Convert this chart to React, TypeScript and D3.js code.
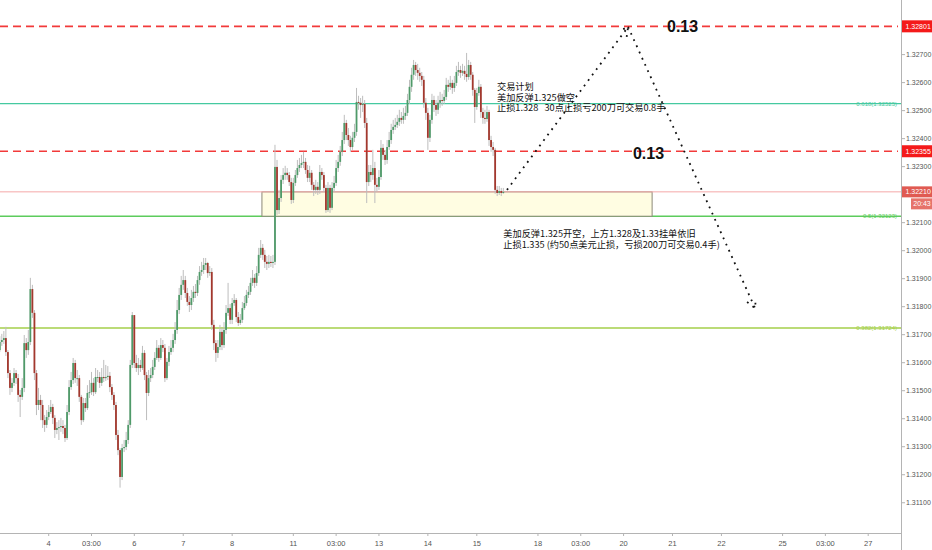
import React from "react";
import * as d3 from "d3";

// USDCAD 1H, Nov 2019. Each bar is [high, low, close]; the open is the previous close.
const FIRST_OPEN = 1.31645;
const FIRST_INDEX = -24; // bars before the Mon 4 session start

const nov1 = [
  [1.31695, 1.31638, 1.31674], [1.31703, 1.3166, 1.31681], [1.31713, 1.31667, 1.31688],
  [1.31728, 1.31624, 1.31638], [1.31645, 1.31545, 1.31563], [1.31574, 1.31485, 1.3151],
  [1.31545, 1.31495, 1.31528], [1.31581, 1.31517, 1.31563], [1.31574, 1.31524, 1.31545],
  [1.3156, 1.3146, 1.31485], [1.31503, 1.31406, 1.31478], [1.31545, 1.31467, 1.3151],
  [1.31699, 1.31495, 1.3167], [1.31688, 1.31617, 1.31645], [1.31717, 1.31628, 1.31674],
  [1.31903, 1.31663, 1.31863], [1.31878, 1.3176, 1.31778], [1.31788, 1.31538, 1.31563],
  [1.31574, 1.31413, 1.31449], [1.3151, 1.31431, 1.31467], [1.31485, 1.31395, 1.31449],
  [1.31467, 1.31367, 1.31395], [1.31413, 1.31353, 1.31378], [1.31431, 1.31367, 1.31406],
];
const nov4 = [
  [1.31449, 1.31395, 1.31424], [1.31467, 1.31417, 1.31442], [1.31453, 1.31381, 1.31403],
  [1.31413, 1.31331, 1.3136], [1.31388, 1.31345, 1.31367], [1.31395, 1.31324, 1.3137],
  [1.31403, 1.31353, 1.31374], [1.31395, 1.31345, 1.31367], [1.31378, 1.31317, 1.31331],
  [1.31449, 1.31324, 1.31424], [1.31538, 1.31413, 1.31513], [1.31567, 1.31503, 1.31538],
  [1.31617, 1.31524, 1.31599], [1.3161, 1.31528, 1.31545], [1.31574, 1.31517, 1.31545],
  [1.31556, 1.3146, 1.31478], [1.31485, 1.31378, 1.31395], [1.31474, 1.31388, 1.31456],
];
const nov5 = [
  [1.31474, 1.31424, 1.31438], [1.3152, 1.31431, 1.31492], [1.31538, 1.31474, 1.31495],
  [1.31567, 1.31485, 1.31528], [1.31545, 1.31481, 1.31495], [1.31581, 1.31488, 1.31549],
  [1.31574, 1.31531, 1.31549], [1.31567, 1.3151, 1.31528], [1.31581, 1.31517, 1.31549],
  [1.3161, 1.31531, 1.31545], [1.31592, 1.31535, 1.31549], [1.31588, 1.31538, 1.31553],
  [1.31567, 1.31495, 1.31513], [1.31524, 1.31467, 1.31485], [1.31495, 1.31431, 1.31449],
  [1.3146, 1.31324, 1.31342], [1.3136, 1.3127, 1.31288], [1.31295, 1.31154, 1.31192],
  [1.3131, 1.31181, 1.31295], [1.31324, 1.31281, 1.31299], [1.31353, 1.31288, 1.31324],
  [1.31395, 1.3131, 1.31378], [1.3161, 1.31367, 1.31592], [1.31781, 1.31581, 1.3177],
];
const nov6 = [
  [1.3176, 1.31581, 1.31599], [1.31628, 1.31567, 1.31581], [1.31617, 1.31556, 1.31592],
  [1.3161, 1.31567, 1.31581], [1.3166, 1.31574, 1.31635], [1.31645, 1.31538, 1.31556],
  [1.31567, 1.31395, 1.31492], [1.31574, 1.31481, 1.31545], [1.31581, 1.31531, 1.31556],
  [1.3161, 1.31545, 1.31585], [1.31638, 1.31574, 1.31617], [1.31681, 1.3161, 1.31653],
  [1.31663, 1.31603, 1.31617], [1.31688, 1.3161, 1.31663], [1.31681, 1.31638, 1.31653],
  [1.31667, 1.31531, 1.31545], [1.31617, 1.31538, 1.31603], [1.3166, 1.31588, 1.31638],
  [1.31681, 1.31628, 1.31653], [1.31703, 1.31638, 1.31681], [1.31745, 1.31667, 1.31717],
  [1.31824, 1.31703, 1.31788], [1.31867, 1.31774, 1.31842], [1.3191, 1.31824, 1.31878],
];
const nov7 = [
  [1.31931, 1.3186, 1.31895], [1.3191, 1.31831, 1.31849], [1.31867, 1.31803, 1.31817],
  [1.31838, 1.31781, 1.31806], [1.3186, 1.31788, 1.31831], [1.31874, 1.31817, 1.31853],
  [1.31881, 1.31831, 1.31849], [1.3191, 1.31838, 1.31895], [1.31945, 1.31878, 1.31924],
  [1.3196, 1.3191, 1.31931], [1.31974, 1.31917, 1.31949], [1.31974, 1.31931, 1.31956],
  [1.3196, 1.31903, 1.3192], [1.31945, 1.3191, 1.31924], [1.31938, 1.31717, 1.31735],
  [1.31753, 1.31645, 1.3167], [1.31681, 1.31603, 1.31635], [1.31681, 1.31617, 1.31656],
  [1.31735, 1.31645, 1.3171], [1.31724, 1.31645, 1.31663], [1.31745, 1.31653, 1.31717],
  [1.31806, 1.31703, 1.31778], [1.31885, 1.31767, 1.31795], [1.3181, 1.31738, 1.31753],
];
const nov8 = [
  [1.31831, 1.31738, 1.31813], [1.31845, 1.31803, 1.31824], [1.31831, 1.31745, 1.31763],
  [1.31781, 1.31731, 1.31742], [1.31774, 1.31735, 1.31753], [1.31817, 1.31742, 1.31795],
  [1.31838, 1.31788, 1.31813], [1.3186, 1.31803, 1.31842], [1.31874, 1.31831, 1.31853],
  [1.31903, 1.31842, 1.31885], [1.31931, 1.31874, 1.31903], [1.31917, 1.31867, 1.31885],
  [1.31945, 1.31874, 1.3192], [1.3201, 1.3191, 1.31985], [1.32038, 1.31974, 1.3201],
  [1.32024, 1.31967, 1.31985], [1.32003, 1.31938, 1.3196], [1.31981, 1.31931, 1.31953],
  [1.31985, 1.31938, 1.3196], [1.31981, 1.31942, 1.31956], [1.31985, 1.31938, 1.3196],
  [1.32378, 1.31949, 1.32299], [1.32324, 1.32128, 1.32145], [1.32217, 1.32131, 1.32188],
  [1.3227, 1.32174, 1.32253], [1.32295, 1.32238, 1.3227], [1.32303, 1.32253, 1.32278],
  [1.32295, 1.32253, 1.3227], [1.32281, 1.32231, 1.32245], [1.3226, 1.32167, 1.32181],
];
const nov11 = [
  [1.3226, 1.3217, 1.32242], [1.32288, 1.32231, 1.3227], [1.32324, 1.3226, 1.32295],
  [1.32331, 1.32281, 1.32306], [1.32342, 1.32295, 1.32313], [1.32353, 1.32295, 1.32317],
  [1.32331, 1.32274, 1.32288], [1.32306, 1.32245, 1.3226], [1.32303, 1.32245, 1.32278],
  [1.32288, 1.32217, 1.32235], [1.32245, 1.32195, 1.32217], [1.32253, 1.32203, 1.32228],
  [1.32245, 1.32199, 1.32217], [1.32306, 1.32203, 1.32281], [1.32295, 1.32253, 1.3227],
  [1.32281, 1.3221, 1.32224], [1.32235, 1.32135, 1.32145], [1.32245, 1.32138, 1.32224],
];
const nov12 = [
  [1.32235, 1.32135, 1.32153], [1.32245, 1.32145, 1.32224], [1.32267, 1.3221, 1.32242],
  [1.32324, 1.32231, 1.32295], [1.32342, 1.32281, 1.32317], [1.32374, 1.32303, 1.32353],
  [1.32424, 1.32338, 1.32395], [1.32485, 1.32381, 1.32456], [1.32467, 1.32395, 1.32413],
  [1.32438, 1.32374, 1.32395], [1.3241, 1.32353, 1.3237], [1.32424, 1.3236, 1.32403],
  [1.32453, 1.32388, 1.32424], [1.32581, 1.3241, 1.32531], [1.32553, 1.32503, 1.32528],
  [1.32545, 1.32474, 1.3252], [1.32553, 1.32495, 1.32524], [1.32538, 1.32438, 1.32456],
  [1.32474, 1.3217, 1.32245], [1.32306, 1.32231, 1.32281], [1.32306, 1.32245, 1.3227],
  [1.3236, 1.32253, 1.32295], [1.32317, 1.3217, 1.32235], [1.3226, 1.3221, 1.32228],
];
const nov13 = [
  [1.32288, 1.32217, 1.32263], [1.32395, 1.32253, 1.32367], [1.32381, 1.32324, 1.32342],
  [1.3236, 1.32306, 1.32324], [1.32395, 1.3231, 1.3237], [1.32424, 1.3236, 1.32395],
  [1.32453, 1.32381, 1.32431], [1.32467, 1.32417, 1.32442], [1.32474, 1.32431, 1.32449],
  [1.32485, 1.32438, 1.3246], [1.32503, 1.32445, 1.32474], [1.32495, 1.32453, 1.32467],
  [1.3251, 1.32453, 1.32481], [1.32517, 1.32467, 1.32492], [1.3256, 1.32481, 1.32538],
  [1.3261, 1.32524, 1.32585], [1.32653, 1.32567, 1.32628], [1.32681, 1.3261, 1.32663],
  [1.32674, 1.32624, 1.32645], [1.32667, 1.3261, 1.32635], [1.32653, 1.32603, 1.32624],
  [1.32638, 1.32588, 1.3261], [1.32624, 1.3251, 1.32528], [1.32545, 1.32467, 1.32492],
];
const nov14 = [
  [1.3251, 1.3236, 1.32403], [1.32485, 1.32388, 1.32467], [1.3256, 1.32453, 1.32538],
  [1.32553, 1.32495, 1.3252], [1.32538, 1.32481, 1.32503], [1.32553, 1.32488, 1.32528],
  [1.32567, 1.3251, 1.32538], [1.3256, 1.32517, 1.32535], [1.32574, 1.32524, 1.32549],
  [1.32617, 1.32538, 1.32592], [1.3261, 1.32567, 1.32585], [1.32624, 1.32574, 1.32599],
  [1.3261, 1.3256, 1.32581], [1.32624, 1.32567, 1.32599], [1.3266, 1.32588, 1.32638],
  [1.32674, 1.32624, 1.32645], [1.3266, 1.32617, 1.32635], [1.32667, 1.32624, 1.32642],
  [1.3266, 1.3261, 1.32631], [1.32706, 1.32603, 1.3262], [1.32681, 1.3261, 1.32663],
  [1.32674, 1.3261, 1.32628], [1.32638, 1.32553, 1.32574], [1.32581, 1.32456, 1.32513],
];
const nov15 = [
  [1.32581, 1.32503, 1.32563], [1.3261, 1.32553, 1.32585], [1.32595, 1.32474, 1.32495],
  [1.3251, 1.32453, 1.32474], [1.32503, 1.32453, 1.3247], [1.32517, 1.3246, 1.32495],
  [1.32503, 1.32374, 1.32395], [1.3241, 1.32353, 1.3237], [1.32388, 1.32338, 1.3236],
  [1.32367, 1.32203, 1.32217], [1.32231, 1.32195, 1.32206], [1.32231, 1.32199, 1.32213],
  [1.32224, 1.32195, 1.32206], [1.32224, 1.32203, 1.3221],
];
const SESSIONS = [nov1, nov4, nov5, nov6, nov7, nov8, nov11, nov12, nov13, nov14, nov15];

// bar index of each time label (Mon 4 06:00 = 0)
const TIME_TICKS: [number, string][] = [
  [0, "4"], [21, "03:00"], [42, "6"], [66, "7"], [90, "8"], [120, "11"], [141, "03:00"],
  [162, "13"], [186, "14"], [210, "15"], [240, "18"], [261, "03:00"], [282, "20"],
  [306, "21"], [330, "22"], [360, "25"], [381, "03:00"], [402, "27"],
];
const PRICE_TICKS = [1.311, 1.312, 1.313, 1.314, 1.315, 1.316, 1.317, 1.318, 1.319,
  1.32, 1.321, 1.323, 1.324, 1.325, 1.326, 1.327];

const LAST_PRICE = 1.3221;
const TIMER = "20:43";
const STOP_LEVELS = [1.32801, 1.32355];
const FIB_LEVELS: [string, number, string][] = [
  ["0.618", 1.32525, "#45c9a0"],
  ["0.5", 1.32123, "#5dcc5d"],
  ["0.382", 1.31724, "#a5cf4a"],
];
const ZONE = { t0: 104.6, t1: 296, top: 1.3221, bottom: 1.32123 };
const ROUTE: [number, number][] = [[224.8, 1.32217], [284.2, 1.32799], [346.5, 1.31795]];
const TARGETS: [number, number, string][] = [[303.3, 1.32779, "0.13"], [286.6, 1.32326, "0.13"]];
const PLAN_AT: [number, number] = [219.9, 1.32572];
const PLAN_LINES = ["交易计划", "美加反弹1.325做空", "止损1.328   30点止损亏200刀可交易0.8手"];
const ORDER_AT: [number, number] = [223.0, 1.32049];
const ORDER_LINES = [
  "美加反弹1.325开空，上方1.328及1.33挂单依旧",
  "止损1.335 (约50点美元止损，亏损200刀可交易0.4手)",
];

const WIDTH = 932;
const HEIGHT = 550;
const PLOT_W = 901;
const PLOT_H = 533;
const UP = "#4f9a69";
const DOWN = "#a3382e";
const WICK = "#bdbdbd";
const AXIS = "#b4b4b4";
const CJK = "'Noto Sans CJK SC', 'Noto Sans', sans-serif";
const LATIN = "'Liberation Sans', Arial, sans-serif";

interface Bar { i: number; o: number; h: number; l: number; c: number; }

function buildBars(): Bar[] {
  const out: Bar[] = [];
  let open = FIRST_OPEN;
  let i = FIRST_INDEX;
  SESSIONS.forEach((day) => {
    day.forEach(([h, l, c]) => {
      out.push({ i, o: open, h: Math.max(h, open, c), l: Math.min(l, open, c), c });
      open = c;
      i += 1;
    });
  });
  return out;
}

const bars = buildBars();

export default function App() {
  const x = d3.scaleLinear().domain([0, 402]).range([48.7, 868.2]);
  const y = d3.scaleLinear().domain([1.30992, 1.32895]).range([PLOT_H, 0]);

  const arrow = (a: [number, number], b: [number, number]) => {
    const x0 = x(a[0]), y0 = y(a[1]), x1 = x(b[0]), y1 = y(b[1]);
    const ang = Math.atan2(y1 - y0, x1 - x0);
    const len = 10, spread = 0.5;
    const h1 = [x1 - len * Math.cos(ang - spread), y1 - len * Math.sin(ang - spread)];
    const h2 = [x1 - len * Math.cos(ang + spread), y1 - len * Math.sin(ang + spread)];
    return `M${x0},${y0}L${x1},${y1}M${h1[0]},${h1[1]}L${x1},${y1}L${h2[0]},${h2[1]}`;
  };

  const labelBoxes = [...STOP_LEVELS, LAST_PRICE];

  return (
    <svg width={WIDTH} height={HEIGHT} style={{ position: "absolute", left: 0, top: 0 }}>
      <rect width={WIDTH} height={HEIGHT} fill="#ffffff" />
      <defs>
        <clipPath id="plot"><rect width={PLOT_W} height={PLOT_H} /></clipPath>
      </defs>

      <g clipPath="url(#plot)">
        {/* fib levels */}
        {FIB_LEVELS.map(([r, p, col]) => (
          <g key={r}>
            <line x1={0} x2={PLOT_W} y1={y(p)} y2={y(p)} stroke={col} strokeWidth={r === "0.5" ? 1.6 : 1.3} />
            <text x={897} y={y(p) + 2} textAnchor="end" fontSize={6} fill={col} fontFamily={LATIN}>
              {`${r}(${p.toFixed(5)})`}
            </text>
          </g>
        ))}

        {/* zone box */}
        <rect x={x(ZONE.t0)} width={x(ZONE.t1) - x(ZONE.t0)} y={y(ZONE.top)}
          height={y(ZONE.bottom) - y(ZONE.top)} fill="#fffde2" stroke="#8c8878" strokeWidth={1} />

        {/* last price line */}
        <line x1={0} x2={PLOT_W} y1={y(LAST_PRICE)} y2={y(LAST_PRICE)} stroke="#f5a8a8" strokeWidth={1} />

        {/* stop / target dashed levels */}
        {STOP_LEVELS.map((p) => (
          <line key={p} x1={0} x2={PLOT_W - 3} y1={y(p)} y2={y(p)} stroke="#f23a3a"
            strokeWidth={1.6} strokeDasharray="8 5" />
        ))}

        {/* candles */}
        {bars.map((b) => {
          const cx = x(b.i);
          const up = b.c >= b.o;
          const top = y(Math.max(b.o, b.c));
          const bot = y(Math.min(b.o, b.c));
          return (
            <g key={b.i}>
              <line x1={cx} x2={cx} y1={y(b.h)} y2={y(b.l)} stroke={WICK} strokeWidth={1} />
              <rect x={cx - 0.9} width={1.8} y={top} height={Math.max(1, bot - top)} fill={up ? UP : DOWN} />
            </g>
          );
        })}

        {/* planned route */}
        {ROUTE.slice(1).map((pt, k) => (
          <path key={k} d={arrow(ROUTE[k], pt)} fill="none" stroke="#111" strokeWidth={1.8}
            strokeDasharray="1.8 5" />
        ))}

        {TARGETS.map(([t, p, s], k) => (
          <text key={k} x={x(t)} y={y(p)} fontSize={16} fontWeight="bold" fontFamily={LATIN} fill="#111">{s}</text>
        ))}

        <text x={x(PLAN_AT[0])} y={y(PLAN_AT[1])} fontSize={9.2} fontFamily={CJK} fill="#111" xmlSpace="preserve">
          {PLAN_LINES.map((s, k) => (
            <tspan key={k} x={x(PLAN_AT[0])} dy={k === 0 ? 0 : 10.2}>{s}</tspan>
          ))}
        </text>
        <text x={x(ORDER_AT[0])} y={y(ORDER_AT[1])} fontSize={9.2} fontFamily={CJK} fill="#111">
          {ORDER_LINES.map((s, k) => (
            <tspan key={k} x={x(ORDER_AT[0])} dy={k === 0 ? 0 : 10.6}>{s}</tspan>
          ))}
        </text>
      </g>

      {/* axes */}
      <line x1={0} x2={PLOT_W} y1={PLOT_H + 0.5} y2={PLOT_H + 0.5} stroke={AXIS} />
      <line x1={PLOT_W + 0.5} x2={PLOT_W + 0.5} y1={0} y2={HEIGHT} stroke={AXIS} />

      {TIME_TICKS.map(([t, s], k) => (
        <g key={k} transform={`translate(${x(t)},${PLOT_H})`}>
          <line y1={0} y2={3} stroke={AXIS} />
          <text y={13} textAnchor="middle" fontSize={7.5} fontFamily={LATIN} fill="#555">{s}</text>
        </g>
      ))}

      {PRICE_TICKS.filter((p) => labelBoxes.every((q) => Math.abs(y(p) - y(q)) > 7)).map((p) => (
        <g key={p} transform={`translate(${PLOT_W},${y(p)})`}>
          <line x1={1} x2={4} stroke={AXIS} />
          <text x={5} y={2.5} fontSize={7} fontFamily={LATIN} fill="#555">{p.toFixed(5)}</text>
        </g>
      ))}

      {STOP_LEVELS.map((p) => (
        <g key={p} transform={`translate(${PLOT_W + 1},${y(p)})`}>
          <rect y={-6} width={31} height={12} fill="#f41a1a" />
          <text x={3.5} y={2.5} fontSize={7} fontFamily={LATIN} fill="#fff">{p.toFixed(5)}</text>
        </g>
      ))}
      <g transform={`translate(${PLOT_W + 1},${y(LAST_PRICE)})`}>
        <rect y={-5.5} width={31} height={11} fill="#e05a52" />
        <text x={3.5} y={2.5} fontSize={7} fontFamily={LATIN} fill="#fff">{LAST_PRICE.toFixed(5)}</text>
        <rect x={9} y={6.5} width={22} height={11} fill="#e6736a" />
        <text x={20} y={14.5} textAnchor="middle" fontSize={7} fontFamily={LATIN} fill="#fff">{TIMER}</text>
      </g>
    </svg>
  );
}
